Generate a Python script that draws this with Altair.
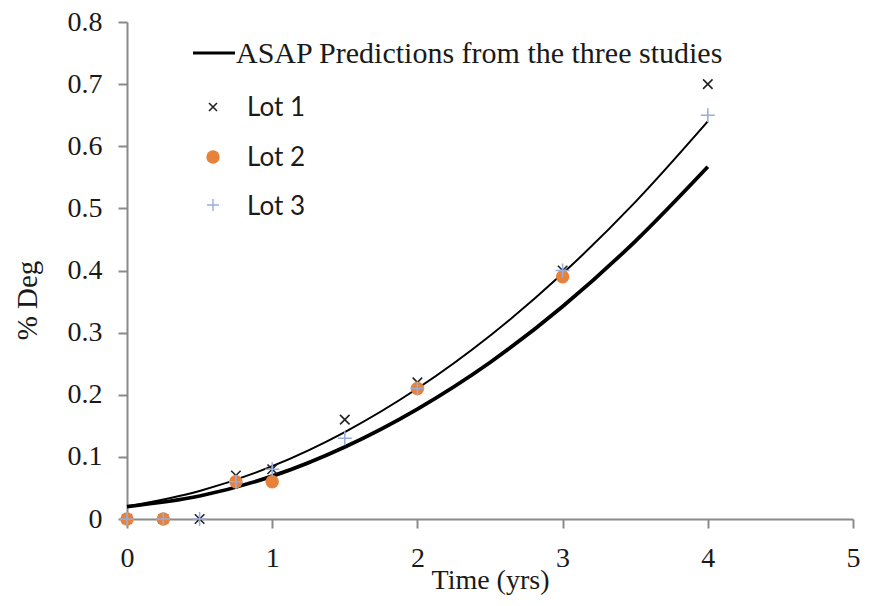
import altair as alt
import pandas as pd

# ---- data ----
curve_t = [0, 0.5, 1, 1.5, 2, 2.5, 3, 3.5, 4]
curve_thin = [0.020, 0.045, 0.085, 0.140, 0.210, 0.295, 0.395, 0.510, 0.640]
curve_thick = [0.020, 0.037, 0.069, 0.116, 0.177, 0.252, 0.342, 0.447, 0.567]

lot1_t = [0, 0.25, 0.5, 0.75, 1, 1.5, 2, 3, 4]
lot1_v = [0, 0, 0, 0.07, 0.08, 0.16, 0.22, 0.40, 0.70]
lot2_t = [0, 0.25, 0.75, 1, 2, 3]
lot2_v = [0, 0, 0.06, 0.06, 0.21, 0.39]
lot3_t = [0, 0.25, 0.5, 0.75, 1, 1.5, 2, 3, 4]
lot3_v = [0, 0, 0, 0.06, 0.08, 0.13, 0.21, 0.40, 0.65]

x_ticks = [0, 1, 2, 3, 4, 5]
y_ticks = [0, 0.1, 0.2, 0.3, 0.4, 0.5, 0.6, 0.7, 0.8]
legend_line_label = "ASAP Predictions from the three studies"
legend_lot_labels = ["Lot 1", "Lot 2", "Lot 3"]

SERIF = "Liberation Serif"
SANS = "Lato"
ORANGE = "#E6823A"
BLUE = "#98AEDC"
XPATH = "M-1,-1L1,1M-1,1L1,-1"
PLUS = "M-1,0L1,0M0,-1L0,1"

xs = alt.Scale(domain=[0, 5], nice=False)
ys = alt.Scale(domain=[0, 0.8], nice=False)

x_axis = alt.Axis(values=x_ticks, format="d", title="Time (yrs)", labelPadding=16,
                  labelFlush=False, labelOverlap=False,
                  titleY=69, titleBaseline="alphabetic", titleFontSize=28)
y_axis = alt.Axis(values=y_ticks, format=".1~f", title="% Deg", labelPadding=16,
                  labelFlush=False, labelOverlap=False,
                  titleX=-100, titleY=278, titleAngle=270, titleBaseline="middle",
                  titleAlign="center", titleFontSize=29)

X = alt.X("t:Q", scale=xs, axis=x_axis)
Y = alt.Y("v:Q", scale=ys, axis=y_axis)

df_thin = pd.DataFrame({"t": curve_t, "v": curve_thin})
df_thick = pd.DataFrame({"t": curve_t, "v": curve_thick})
df1 = pd.DataFrame({"t": lot1_t, "v": lot1_v})
df2 = pd.DataFrame({"t": lot2_t, "v": lot2_v})
df3 = pd.DataFrame({"t": lot3_t, "v": lot3_v})

thick = alt.Chart(df_thick).mark_line(color="black", strokeWidth=3.8, interpolate="monotone").encode(x=X, y=Y)
thin = alt.Chart(df_thin).mark_line(color="black", strokeWidth=2, interpolate="monotone").encode(x=X, y=Y)
p1 = alt.Chart(df1).mark_point(shape=XPATH, filled=False, color="#222222", strokeWidth=1.6, size=90, opacity=1).encode(x=X, y=Y)
p2 = alt.Chart(df2).mark_circle(color=ORANGE, size=180, opacity=1).encode(x=X, y=Y)
p3 = alt.Chart(df3).mark_point(shape=PLUS, filled=False, color=BLUE, strokeWidth=1.6, size=196, opacity=1).encode(x=X, y=Y)

one = pd.DataFrame({"a": [0]})
leg_line = alt.Chart(one).mark_rule(color="black", strokeWidth=3).encode(
    x=alt.value(66), x2=alt.value(108), y=alt.value(31))
leg_line_txt = alt.Chart(one).mark_text(align="left", baseline="alphabetic", font=SERIF,
                                        fontSize=30, color="#1a1a1a").encode(
    x=alt.value(109), y=alt.value(41), text=alt.value(legend_line_label))
leg_s1 = alt.Chart(one).mark_point(shape=XPATH, filled=False, color="#222222", strokeWidth=1.6, size=64, opacity=1).encode(
    x=alt.value(86), y=alt.value(85))
leg_s2 = alt.Chart(one).mark_circle(color=ORANGE, size=180, opacity=1).encode(
    x=alt.value(86), y=alt.value(135))
leg_s3 = alt.Chart(one).mark_point(shape=PLUS, filled=False, color=BLUE, strokeWidth=1.4, size=144, opacity=1).encode(
    x=alt.value(86), y=alt.value(183))
leg_texts = []
for lbl, yb in zip(legend_lot_labels, [94, 144, 193]):
    leg_texts.append(alt.Chart(one).mark_text(align="left", baseline="alphabetic", font=SANS,
                                              fontSize=26, color="#1a1a1a").encode(
        x=alt.value(120), y=alt.value(yb), text=alt.value(lbl)))

chart = alt.layer(thick, thin, p1, p2, p3, leg_line, leg_line_txt, leg_s1, leg_s2, leg_s3, *leg_texts).properties(
    width=726, height=497,
    autosize=alt.AutoSizeParams(type="none"),
    padding={"left": 119, "top": 14, "right": 16, "bottom": 79},
    background="white",
).configure_view(stroke=None).configure_axis(
    grid=False,
    domainColor="#8a8a8a", domainWidth=2,
    tickColor="#8a8a8a", tickWidth=2, tickSize=9,
    labelFont=SERIF, labelFontSize=28, labelColor="#1a1a1a",
    titleFont=SERIF, titleFontWeight="normal", titleColor="#1a1a1a",
)

chart.save("out.html", embed_options={"renderer": "svg", "actions": False})
